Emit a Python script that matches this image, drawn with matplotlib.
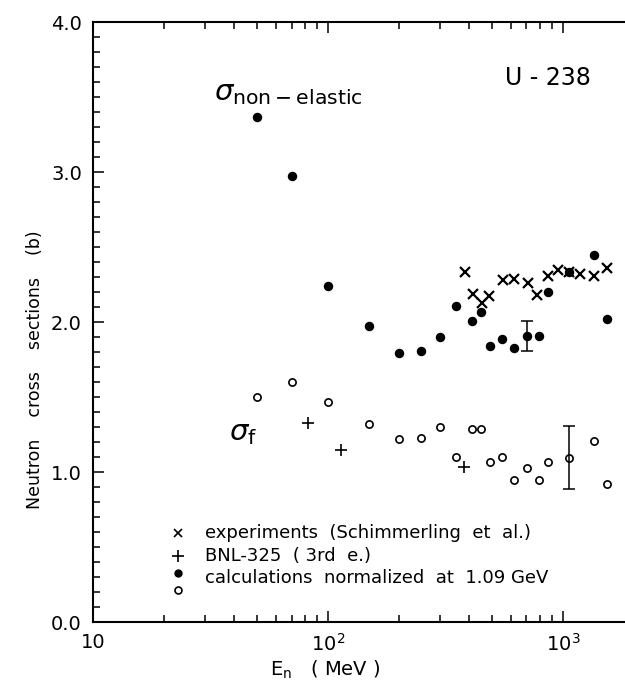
import matplotlib
matplotlib.use("Agg")
import matplotlib.pyplot as plt
from matplotlib.ticker import FixedLocator, NullFormatter, FuncFormatter

# calculations (same energies for both cross sections), MeV
e_calc = [50, 70, 100, 150, 200, 250, 300, 350, 410, 450, 490, 550, 620, 705, 790, 865, 1065, 1360, 1540]
sig_nonel = [3.37, 2.975, 2.24, 1.975, 1.795, 1.81, 1.90, 2.11, 2.01, 2.07, 1.84, 1.885, 1.825,
             1.91, 1.91, 2.20, 2.335, 2.45, 2.02]
sig_fis = [1.50, 1.60, 1.47, 1.32, 1.22, 1.23, 1.30, 1.10, 1.285, 1.285, 1.07, 1.10, 0.95,
           1.025, 0.95, 1.07, 1.095, 1.21, 0.92]

# error bars on one calculated point of each curve
e_err_nonel, v_err_nonel, d_err_nonel = 705, 1.91, 0.10
e_err_fis, v_err_fis, d_err_fis = 1065, 1.095, 0.21

# experiments (Schimmerling et al.)
e_exp = [383, 413, 451, 485, 557, 621, 708, 773, 869, 955, 1064, 1181, 1359, 1545]
sig_exp = [2.335, 2.19, 2.125, 2.175, 2.28, 2.285, 2.26, 2.18, 2.31, 2.35, 2.335, 2.32, 2.305, 2.36]

# BNL-325 (3rd ed.)
e_bnl = [82, 113.5, 381]
sig_bnl = [1.33, 1.15, 1.035]

plt.rcParams['font.family'] = ['DejaVu Sans']
plt.rcParams['mathtext.fontset'] = 'dejavusans'

fig = plt.figure(figsize=(6.25, 6.86), dpi=100)
ax = fig.add_axes([93 / 625, 64 / 686, 532 / 625, 600 / 686])

ax.plot(e_calc, sig_nonel, 'o', color='black', ms=5.8, ls='none')
ax.plot(e_calc, sig_fis, 'o', mfc='white', mec='black', mew=1.2, ms=5.2, ls='none')
ax.plot(e_exp, sig_exp, 'x', color='black', ms=7, mew=1.6, ls='none')
ax.plot(e_bnl, sig_bnl, '+', color='black', ms=9, mew=1.2, ls='none')
ax.errorbar([e_err_nonel], [v_err_nonel], yerr=[d_err_nonel], fmt='none', ecolor='black',
            elinewidth=1.1, capsize=4, capthick=1.1)
ax.errorbar([e_err_fis], [v_err_fis], yerr=[d_err_fis], fmt='none', ecolor='black',
            elinewidth=1.1, capsize=4, capthick=1.1)

ax.set_xscale('log')
ax.set_xlim(10, 1840)
ax.set_ylim(0, 4)

ax.spines['right'].set_visible(False)
for s in ['left', 'bottom', 'top']:
    ax.spines[s].set_linewidth(1.5)

ax.xaxis.set_major_locator(FixedLocator([10, 100, 1000]))
ax.xaxis.set_minor_locator(FixedLocator([v * d for d in (10, 100) for v in range(2, 10)]))
ax.xaxis.set_major_formatter(FuncFormatter(
    lambda v, p: {10: '10', 100: r'$10^2$', 1000: r'$10^3$'}.get(int(round(v)), '')))
ax.xaxis.set_minor_formatter(NullFormatter())
ax.set_yticks([0, 1, 2, 3, 4])
ax.set_yticklabels(['0.0', '1.0', '2.0', '3.0', '4.0'])
ax.yaxis.set_minor_locator(FixedLocator([i / 10 for i in range(41)]))

ax.tick_params(which='both', direction='in', top=True, right=False, labelsize=14, width=1.1)
ax.tick_params(which='major', length=8)
ax.tick_params(which='minor', length=5)
ax.tick_params(axis='y', pad=8)
ax.tick_params(axis='x', pad=8)

ax.text(0.227, 0.882, r'$\sigma_{\mathrm{non-elastic}}$', transform=ax.transAxes,
        fontsize=21, va='center', ha='left')
ax.text(0.255, 0.315, r'$\sigma_{\mathrm{f}}$', transform=ax.transAxes,
        fontsize=21, va='center', ha='left')
ax.text(0.855, 0.907, 'U - 238', transform=ax.transAxes, fontsize=17, va='center', ha='center')

# legend drawn by hand
lx, tx = 0.159, 0.210
ax.plot([lx], [0.148], 'x', color='black', ms=6, mew=1.2, transform=ax.transAxes, clip_on=False)
ax.plot([lx], [0.110], '+', color='black', ms=8, mew=1.2, transform=ax.transAxes, clip_on=False)
ax.plot([lx], [0.082], 'o', color='black', ms=5, transform=ax.transAxes, clip_on=False)
ax.plot([lx], [0.053], 'o', mfc='white', mec='black', mew=1.2, ms=5,
        transform=ax.transAxes, clip_on=False)
ax.text(tx, 0.148, 'experiments  (Schimmerling  et  al.)', transform=ax.transAxes,
        fontsize=13, va='center')
ax.text(tx, 0.110, 'BNL-325  ( 3rd  e.)', transform=ax.transAxes, fontsize=13, va='center')
ax.text(tx, 0.074, 'calculations  normalized  at  1.09 GeV', transform=ax.transAxes,
        fontsize=13, va='center')

fig.text(325 / 625, 1 - 670 / 686, r'E$_\mathrm{n}$   ( MeV )', fontsize=14, ha='center', va='center')
fig.text(35 / 625, 1 - 370 / 686, 'Neutron    cross    sections    (b)', fontsize=12.5,
         rotation=90, ha='center', va='center')

fig.savefig('out.png', dpi=100)
